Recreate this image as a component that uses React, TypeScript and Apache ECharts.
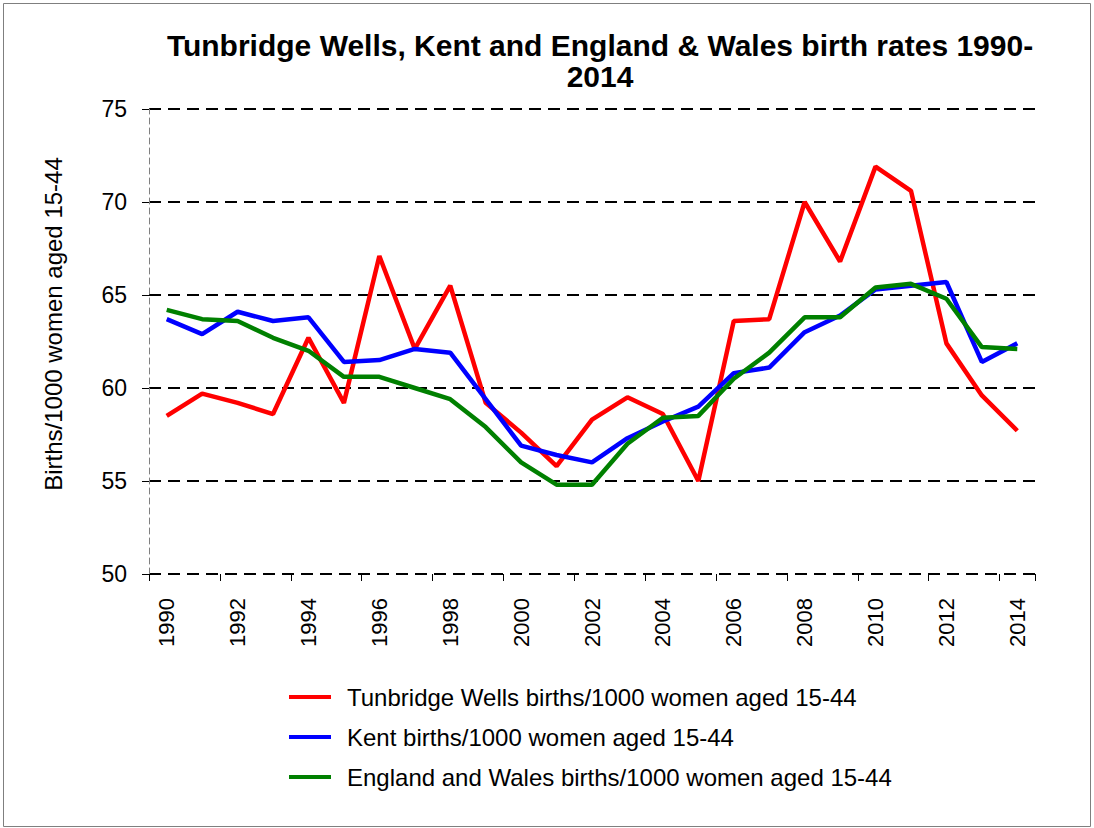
import React, { useEffect, useRef } from "react";
import * as echarts from "echarts";

const years = [
  "1990", "1991", "1992", "1993", "1994", "1995", "1996", "1997", "1998", "1999",
  "2000", "2001", "2002", "2003", "2004", "2005", "2006", "2007", "2008", "2009",
  "2010", "2011", "2012", "2013", "2014",
];
const tunbridgeWells = [58.5, 59.7, 59.2, 58.6, 62.7, 59.2, 67.1, 62.1, 65.5, 59.2, 57.6, 55.8, 58.3, 59.5, 58.6, 55.0, 63.6, 63.7, 70.0, 66.8, 71.9, 70.6, 62.4, 59.6, 57.7];
const kent = [63.7, 62.9, 64.1, 63.6, 63.8, 61.4, 61.5, 62.1, 61.9, 59.4, 56.9, 56.4, 56.0, 57.3, 58.2, 59.0, 60.8, 61.1, 63.0, 63.9, 65.3, 65.5, 65.7, 61.4, 62.4];
const englandWales = [64.2, 63.7, 63.6, 62.7, 62.0, 60.6, 60.6, 60.0, 59.4, 57.9, 56.0, 54.8, 54.8, 57.0, 58.4, 58.5, 60.5, 61.9, 63.8, 63.8, 65.4, 65.6, 64.8, 62.2, 62.1];
const seriesNames = [
  "Tunbridge Wells births/1000 women aged 15-44",
  "Kent births/1000 women aged 15-44",
  "England and Wales births/1000 women aged 15-44",
];
const seriesColors = ["#FF0000", "#0000FF", "#008000"];
const titleText = "Tunbridge Wells, Kent and England & Wales birth rates 1990-\n2014";
const yAxisTitle = "Births/1000 women aged 15-44";

const FONT = "'Liberation Sans', Arial, sans-serif";

export default function App() {
  const ref = useRef<HTMLDivElement>(null);
  useEffect(() => {
    if (!ref.current) return;
    const chart = echarts.init(ref.current, null, { renderer: "svg" });
    const datasets = [tunbridgeWells, kent, englandWales];
    chart.setOption({
      animation: false,
      backgroundColor: "#ffffff",
      title: {
        text: titleText,
        left: 595,
        top: 25,
        textAlign: "center",
        textStyle: {
          fontFamily: FONT,
          fontSize: 30,
          fontWeight: "bold",
          color: "#000",
          lineHeight: 31,
        },
      },
      grid: { left: 149, top: 109, width: 886, height: 465, containLabel: false },
      legend: {
        orient: "vertical",
        left: 284,
        top: 680,
        itemWidth: 42,
        itemHeight: 4,
        itemGap: 16,
        icon: "rect",
        data: seriesNames,
        textStyle: {
          fontFamily: FONT,
          fontSize: 24,
          color: "#000",
          lineHeight: 24,
          padding: [0, 0, 0, 11],
        },
      },
      xAxis: {
        type: "category",
        data: years,
        boundaryGap: true,
        axisLine: { show: false },
        axisTick: { show: true, length: 7, lineStyle: { color: "#000", width: 1 } },
        axisLabel: {
          interval: 1,
          rotate: 90,
          margin: 24,
          fontFamily: FONT,
          fontSize: 22,
          color: "#000",
        },
        splitLine: { show: false },
      },
      yAxis: {
        type: "value",
        min: 50,
        max: 75,
        interval: 5,
        axisLine: { show: true, lineStyle: { color: "#808080", width: 1, type: [6, 4] } },
        axisTick: { show: true, length: 7, lineStyle: { color: "#000", width: 1 } },
        axisLabel: { margin: 22, fontFamily: FONT, fontSize: 23, color: "#000" },
        splitLine: { show: true, lineStyle: { color: "#000", width: 2, type: [12, 7] } },
      },
      series: datasets.map((d, i) => ({
        name: seriesNames[i],
        type: "line",
        data: d,
        symbol: "none",
        lineStyle: { color: seriesColors[i], width: 4.5 },
        itemStyle: { color: seriesColors[i] },
        z: 3 + i,
      })),
      graphic: [
        {
          type: "rect",
          shape: { x: 3.5, y: 3.5, width: 1087, height: 823 },
          style: { fill: "none", stroke: "#7f7f7f", lineWidth: 1 },
          silent: true,
        },
        {
          type: "text",
          x: 53,
          y: 324,
          rotation: Math.PI / 2,
          style: {
            text: yAxisTitle,
            fontFamily: FONT,
            fontSize: 24,
            fill: "#000",
            align: "center",
            verticalAlign: "middle",
          },
        },
      ],
    });
    return () => chart.dispose();
  }, []);
  return (
    <div
      ref={ref}
      style={{ position: "absolute", left: 0, top: 0, width: 1094, height: 828 }}
    />
  );
}
